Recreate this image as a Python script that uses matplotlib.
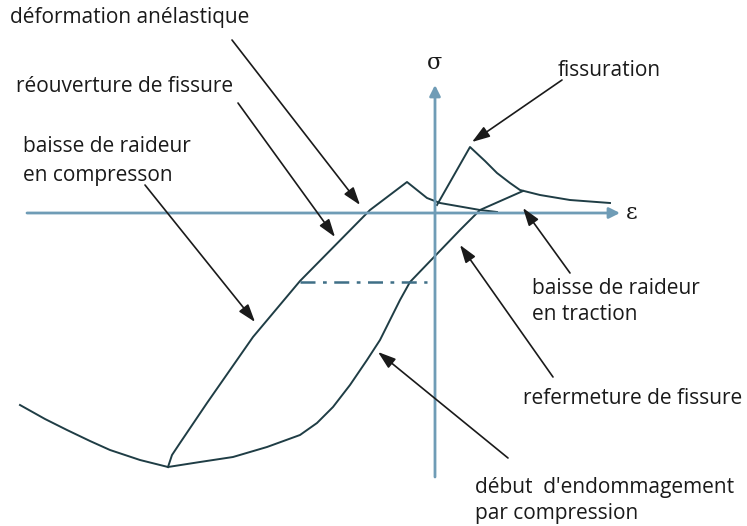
import matplotlib
matplotlib.use("Agg")
import matplotlib.pyplot as plt

# ---- data (strain eps, stress sig, arbitrary units; origin at axes crossing) ----
env_comp_eps = [-415, -390, -368, -345, -325, -295, -267]
env_comp_sig = [-192, -206, -217, -228, -237, -247, -254]

reload_eps = [-267, -265, -263, -255, -228, -182, -135, -65, -28, -8, 5, 45, 62]
reload_sig = [-254, -248, -242, -230, -190, -124, -68, 3, 31, 15, 10, 3, 1]

lower_eps = [-267, -235, -202, -168, -135, -118, -102, -85, -68, -55, -45, -35, -25, 25, 45, 88]
lower_sig = [-254, -249, -244, -234, -222, -210, -194, -172, -147, -127, -107, -87, -69, -17, 3, 22]

crack_eps = [2, 35, 50, 62, 75, 85, 105, 135, 175]
crack_sig = [8, 66, 52, 40, 30, 23, 18, 13, 10]

dash_eps = [-135, -8]
dash_sig = [-69, -69]

# annotation arrows: (tail eps, tail sig, head eps, head sig)
arrow_tail_eps = [-203, -197, -290, 127, 135, 118, 73]
arrow_tail_sig = [173, 110, 28, 133, -60, -164, -245]
arrow_head_eps = [-75, -100, -180, 37, 88, 25, -57]
arrow_head_sig = [8, -24, -109, 71, 5, -32, -139]

labels = ["déformation anélastique", "réouverture de fissure", "baisse de raideur",
          "en compresson", "fissuration", "baisse de raideur", "en traction",
          "refermeture de fissure", "début  d'endommagement", "par compression"]
label_eps = [-425, -419, -412, -412, 123, 97, 97, 88, 40, 40]
label_sig = [195, 126, 66, 38, 143, -75, -102, -185, -274, -300]

# ---- figure ----
fig = plt.figure(figsize=(7.47, 5.26), dpi=100)
ax = fig.add_axes([0, 0, 1, 1])
ax.set_xlim(-435, 312)
ax.set_ylim(-313, 213)
ax.axis("off")

axis_col = "#6f9cb6"
curve_col = "#1f3d45"
arrow_col = "#1a1a1a"

# axes with arrows
ax.annotate("", xy=(185, 0), xytext=(-408, 0),
            arrowprops=dict(arrowstyle="-|>", color=axis_col, lw=2, mutation_scale=16,
                            shrinkA=0, shrinkB=0))
ax.annotate("", xy=(0, 128), xytext=(0, -264),
            arrowprops=dict(arrowstyle="-|>", color=axis_col, lw=2, mutation_scale=16,
                            shrinkA=0, shrinkB=0))

for e, s in [(env_comp_eps, env_comp_sig), (reload_eps, reload_sig),
             (lower_eps, lower_sig), (crack_eps, crack_sig)]:
    ax.plot(e, s, color=curve_col, lw=1.4, solid_joinstyle="round")

ax.plot(dash_eps, dash_sig, color="#3f6f86", lw=1.8, dashes=(6, 3, 1.5, 3))

for te, ts, he, hs in zip(arrow_tail_eps, arrow_tail_sig, arrow_head_eps, arrow_head_sig):
    ax.annotate("", xy=(he, hs), xytext=(te, ts),
                arrowprops=dict(arrowstyle="-|>,head_length=0.9,head_width=0.3",
                                color=arrow_col, lw=1.2, mutation_scale=12,
                                shrinkA=0, shrinkB=0))

for t, e, s in zip(labels, label_eps, label_sig):
    ax.text(e, s, t, fontsize=15, family="Open Sans", ha="left", va="center",
            color="#1a1a1a")

ax.text(0, 150, "σ", fontsize=16, family="DejaVu Serif", ha="center", va="center",
        color="#1a1a1a")
ax.text(197, 0, "ε", fontsize=16, family="DejaVu Serif", ha="center", va="center",
        color="#1a1a1a")

fig.savefig("out.png", dpi=100)
